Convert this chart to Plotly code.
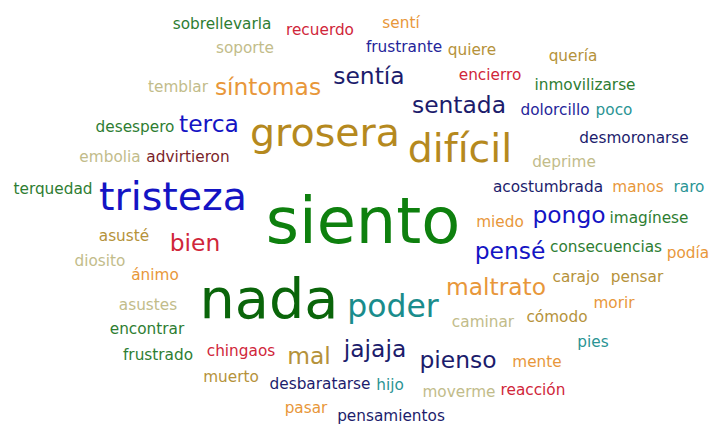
import plotly.graph_objects as go

# ---- data: words and their (estimated) frequencies ----
words = ["sobrellevarla", "recuerdo", "sentí", "soporte", "frustrante", "quiere", "quería",
         "temblar", "síntomas", "sentía", "encierro", "inmovilizarse", "desespero", "terca",
         "sentada", "dolorcillo", "poco", "desmoronarse", "grosera", "difícil", "embolia",
         "advirtieron", "deprime", "terquedad", "tristeza", "acostumbrada", "manos", "raro",
         "siento", "miedo", "pongo", "imagínese", "asusté", "bien", "pensé", "consecuencias",
         "podía", "diosito", "ánimo", "carajo", "pensar", "maltrato", "asustes", "nada",
         "poder", "morir", "cómodo", "caminar", "encontrar", "pies", "frustrado", "chingaos",
         "mal", "jajaja", "pienso", "mente", "muerto", "desbaratarse", "hijo", "moverme",
         "reacción", "pasar", "pensamientos"]
freq = [1, 1, 1, 1, 1, 1, 1,
        1, 2, 2, 1, 1, 1, 2,
        2, 1, 1, 1, 4, 4, 1,
        1, 1, 1, 4, 1, 1, 1,
        7, 1, 2, 1, 1, 2, 2, 1,
        1, 1, 1, 1, 1, 2, 1, 6,
        3, 1, 1, 1, 1, 1, 1, 1,
        2, 2, 2, 1, 1, 1, 1, 1,
        1, 1, 1]

# ---- layout (word-cloud placement, pixel space) ----
x_pos = [222, 320, 401, 245, 404, 472, 573,
         178, 268, 369, 490, 585, 135, 209,
         459, 555, 614, 634, 325, 460, 110,
         188, 564, 53, 173, 548, 638, 689,
         363, 500, 569, 649, 124, 195, 510, 606,
         688, 100, 155, 576, 637, 496, 148, 269,
         393, 614, 557, 483, 147, 593, 158, 241,
         309, 375, 458, 537, 231, 320, 390, 459,
         533, 306, 391]
baseline = [29, 35, 28, 53, 52, 55, 61,
            92, 95, 84, 80, 90, 132, 132,
            113, 115, 115, 143, 146, 162, 162,
            162, 167, 194, 210, 192, 192, 192,
            243, 227, 223, 223, 241, 251, 259, 252,
            258, 266, 280, 282, 282, 295, 310, 318,
            317, 308, 322, 327, 334, 347, 360, 356,
            364, 357, 368, 367, 382, 389, 390, 397,
            395, 413, 421]

GREEN = "#2e7d32"; BLUE = "#1414c4"; NAVY = "#1c1c6c"; NAVY2 = "#25259a"
GOLD = "#b5891e"; TAN = "#b5923a"; ORANGE = "#e8973a"; KHAKI = "#c2bc8a"
RED = "#d0263a"; MAROON = "#7a1f2a"; TEAL = "#2a9494"
colors = [GREEN, RED, ORANGE, KHAKI, NAVY2, TAN, TAN,
          KHAKI, ORANGE, NAVY, RED, GREEN, GREEN, BLUE,
          NAVY, NAVY2, TEAL, NAVY, GOLD, GOLD, KHAKI,
          MAROON, KHAKI, GREEN, BLUE, NAVY, ORANGE, TEAL,
          "#0e800e", ORANGE, BLUE, GREEN, TAN, RED, BLUE, GREEN,
          ORANGE, KHAKI, ORANGE, TAN, TAN, ORANGE, KHAKI, "#0a650a",
          "#1a8c8c", ORANGE, TAN, KHAKI, GREEN, TEAL, GREEN, RED,
          TAN, NAVY, NAVY, ORANGE, TAN, NAVY, TEAL, KHAKI,
          RED, ORANGE, NAVY]

sizes = [1.035 * (7 + 7.8 * f) for f in freq]
y_pos = [b - 0.25 * s for b, s in zip(baseline, sizes)]

fig = go.Figure(go.Scatter(
    x=x_pos, y=y_pos, text=words, mode="text",
    textposition="middle center", cliponaxis=False,
    textfont=dict(size=sizes, color=colors, family="Verdana, DejaVu Sans, sans-serif"),
    hoverinfo="text",
))
fig.update_layout(
    width=712, height=424, margin=dict(l=0, r=0, t=0, b=0),
    paper_bgcolor="white", plot_bgcolor="white", showlegend=False,
    xaxis=dict(range=[0, 712], visible=False, fixedrange=True),
    yaxis=dict(range=[424, 0], visible=False, fixedrange=True),
)
fig.write_html("out.html", config={"displayModeBar": False},
               post_script="document.body.style.margin='0';")
